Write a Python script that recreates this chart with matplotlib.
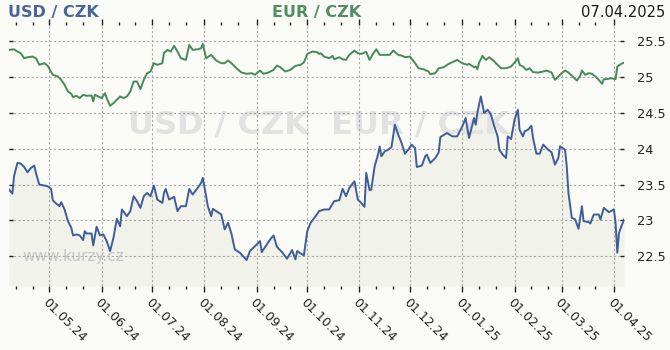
import pandas as pd
import matplotlib
matplotlib.use('Agg')
import matplotlib.pyplot as plt
import matplotlib.dates as mdates

start_date = '2024-04-07'

# days after start_date
usd_days = [0, 2, 3, 5, 7, 9, 11, 13, 15, 16, 18, 21, 23, 25, 26, 28, 30, 31, 33, 35,
            37, 38, 40, 42, 44, 45, 46, 49, 50, 52, 54, 56, 58, 60, 62, 64, 66, 67, 70, 72,
            74, 76, 78, 80, 82, 84, 86, 88, 91, 92,
            93, 95, 98, 100, 102, 105, 107, 109, 112, 114, 115, 117, 118, 120, 121, 123, 126, 128, 130, 132,
            134, 137, 141, 143, 146, 149, 150, 153, 155, 157, 159, 162, 165, 168, 170, 171, 173, 175, 177, 179,
            182, 184,
            187, 190, 193, 196, 198, 200, 202, 205, 207, 209, 211, 212, 214, 215, 217, 219, 220, 221, 223, 225,
            227, 229, 231, 233, 235, 237, 239, 241, 242, 245, 247, 248, 250, 253, 255, 256, 260, 263, 266, 269,
            271, 273, 276,
            277, 278, 280, 282, 284, 286, 288, 290, 291, 293, 295, 296, 298, 300, 302, 303, 305, 306, 308, 310,
            311, 313, 315, 317, 320, 322, 324, 326, 327, 330, 331, 332, 334, 336, 338, 340, 341, 344, 345, 347,
            350, 351, 353, 356, 359, 360, 361, 362, 365]
usd_rate = [23.431, 23.375, 23.616, 23.801, 23.792, 23.745, 23.671, 23.731, 23.764, 23.662,
            23.5, 23.486, 23.477, 23.44, 23.282, 23.236, 23.199, 23.255, 23.153, 22.991,
            22.898, 22.792, 22.806, 22.792, 22.727, 22.852, 22.819, 22.819, 22.653, 22.912,
            22.792, 22.806, 22.713, 22.574, 22.759, 23.023, 22.921, 23.153, 23.06, 23.13,
            23.338, 23.269, 23.176, 23.338, 23.384, 23.338, 23.486, 23.292, 23.245, 23.384,
            23.44, 23.292, 23.329, 23.13, 23.199, 23.199, 23.44, 23.361, 23.454, 23.523,
            23.593, 23.338, 23.199, 23.06, 23.162, 23.13, 23.083, 22.875, 22.968, 22.819,
            22.597, 22.551, 22.449, 22.574, 22.644, 22.713, 22.56, 22.667, 22.736, 22.792,
            22.634, 22.56, 22.468, 22.588, 22.458, 22.574, 22.542, 22.514, 22.852, 22.968,
            23.06, 23.13,
            23.153, 23.153, 23.269, 23.282, 23.44, 23.338, 23.454, 23.546, 23.292, 23.245,
            23.19, 23.662, 23.421, 23.431, 23.755, 23.917, 24.032, 23.894, 23.963, 23.986,
            24.023, 24.333, 24.194, 24.079, 23.931, 23.986, 24.056, 24.009, 23.745, 23.764,
            23.894, 23.917, 23.801, 23.87, 23.949, 24.162, 24.218, 24.171, 24.171, 24.31,
            24.426, 24.148, 24.426,
            24.333, 24.505, 24.727, 24.495, 24.542, 24.472, 24.31, 24.171, 23.986, 23.917,
            23.87, 24.171, 24.134, 24.403, 24.542, 24.264, 24.171, 24.241, 24.264, 24.319,
            24.148, 23.931, 23.931, 24.056, 23.986, 23.949, 23.778, 23.87, 24.032, 23.986,
            23.755, 23.384, 23.037, 23.014, 22.884, 23.199, 22.991, 22.977, 22.958, 23.083,
            23.083, 23.014, 23.176, 23.116, 23.153, 22.958, 22.551, 22.829, 23.014]

eur_days = [0, 3, 5, 7, 9, 11, 14, 16, 18, 21, 23, 26, 29, 31, 33, 35, 37, 38, 40, 42,
            44, 46, 49, 50, 51, 53, 55, 57, 58, 60, 62, 64, 66, 68, 70, 72, 74, 76, 78, 80,
            82, 84, 86, 88, 91, 92,
            93, 94, 96, 98, 100, 102, 105, 107, 109, 112, 114, 115, 117, 120, 123, 126, 128, 130, 132, 135,
            138, 141, 144, 146, 149, 151, 154, 157, 159, 161, 164, 167, 170, 173, 175, 177, 180, 183, 184,
            185, 187, 190, 192, 193, 196, 198, 200, 202, 205, 207, 209, 212, 214, 216, 218, 220, 223, 226, 228,
            231, 233, 235, 238, 241, 243, 246, 249, 250, 253, 255, 258, 261, 264, 266, 269, 272, 273, 276,
            277, 278, 279, 281, 283, 285, 287, 289, 292, 295, 298, 300, 302, 303, 305, 307, 309, 311, 314, 317,
            319, 322, 324, 326, 328, 330, 332, 335, 337, 339, 340, 342, 344, 346, 348, 350, 352, 353, 355, 357,
            360, 361, 363, 365]
eur_rate = [25.375, 25.384, 25.352, 25.329, 25.259, 25.273, 25.282, 25.259, 25.167, 25.19,
            25.153, 25.028, 25.005, 24.958, 24.889, 24.796, 24.764, 24.718, 24.736, 24.704,
            24.75, 24.736, 24.74, 24.657, 24.75, 24.727, 24.704, 24.773, 24.704, 24.597,
            24.634, 24.681, 24.727, 24.704, 24.727, 24.796, 24.935, 24.935, 24.829, 24.958,
            25.051, 25.074, 25.19, 25.167, 25.19, 25.338,
            25.352, 25.375, 25.352, 25.431, 25.352, 25.259, 25.236, 25.444, 25.375, 25.384,
            25.398, 25.458, 25.259, 25.306, 25.227, 25.19, 25.19, 25.227, 25.19, 25.12,
            25.06, 25.042, 25.051, 25.028, 25.088, 25.042, 25.06, 25.097, 25.157, 25.134,
            25.074, 25.097, 25.153, 25.167, 25.199, 25.319, 25.352, 25.343, 25.319,
            25.329, 25.282, 25.259, 25.292, 25.245, 25.273, 25.245, 25.236, 25.306, 25.366,
            25.329, 25.319, 25.347, 25.236, 25.319, 25.384, 25.306, 25.306, 25.306, 25.366,
            25.306, 25.296, 25.273, 25.282, 25.19, 25.12, 25.106, 25.074, 25.037, 25.051,
            25.12, 25.134, 25.181, 25.213, 25.236, 25.19, 25.167, 25.181, 25.134,
            25.144, 25.106, 25.199, 25.292, 25.236, 25.273, 25.236, 25.19, 25.12, 25.12,
            25.144, 25.199, 25.259, 25.167, 25.144, 25.097, 25.12, 25.065, 25.06, 25.074,
            25.088, 25.06, 24.958, 25.005, 25.051, 25.088, 25.06, 24.995, 24.949, 25.014,
            25.088, 25.028, 25.051, 25.042, 25.005, 24.958, 24.903, 24.968, 24.968, 24.981,
            24.968, 25.144, 25.176, 25.199]

y_ticks = [22.5, 23, 23.5, 24, 24.5, 25, 25.5]
y_tick_labels = ['22.5', '23', '23.5', '24', '24.5', '25', '25.5']

bg = '#fafaf6'
usd_color = '#3f5d97'
eur_color = '#468a5c'

start = pd.Timestamp(start_date)
usd_dates = start + pd.to_timedelta(usd_days, unit='D')
eur_dates = start + pd.to_timedelta(eur_days, unit='D')

fig = plt.figure(figsize=(6.7, 3.5), dpi=100, facecolor=bg)
ax = fig.add_axes([0.0134, 0.1829, 0.918, 0.7457])
ax.set_facecolor(bg)
for s in ax.spines.values():
    s.set_visible(False)

y_min, y_max = 22.088, 25.722
ax.set_ylim(y_min, y_max)
ax.set_xlim(usd_dates[0], usd_dates[-1])

# watermark
ax.text(0.503, 0.616, 'USD / CZK  EUR / CZK', transform=ax.transAxes, ha='center', va='center',
        fontsize=23, fontweight='bold', color='#e2e2e2', zorder=1.5)
ax.text(0.022, 0.112, 'www.kurzy.cz', transform=ax.transAxes, ha='left', va='center',
        fontsize=11, color='#c6c6c6', zorder=1.5)

ax.fill_between(usd_dates, usd_rate, y_min, color='#f1f2ea', lw=0, zorder=1)
ax.plot(eur_dates, eur_rate, color=eur_color, lw=1.4, zorder=3)
ax.plot(usd_dates, usd_rate, color=usd_color, lw=1.4, zorder=3)

ax.grid(True, which='major', color='#a8a8a8', linestyle=(0, (2, 2)), lw=0.8, zorder=0)

ax.xaxis.set_major_locator(mdates.MonthLocator())
ax.xaxis.set_minor_locator(mdates.DayLocator(bymonthday=[11, 21]))
ax.xaxis.set_major_formatter(mdates.DateFormatter('%d.%m.%y'))
ax.tick_params(axis='x', which='both', top=True, bottom=True, direction='out', color='#222222')
ax.tick_params(axis='x', which='major', length=4, width=1, labelsize=9, pad=3)
ax.tick_params(axis='x', which='minor', length=2, width=1)
plt.setp(ax.get_xticklabels(), rotation=-45, ha='left', va='top', rotation_mode='anchor', color='#222222')

ax.set_yticks(y_ticks)
ax.set_yticklabels(y_tick_labels)
ax.tick_params(axis='y', left=True, right=True, labelleft=False, labelright=True, direction='in',
               length=3, width=1, color='#222222', labelsize=9.3, pad=9, labelcolor='#222222')

fig.text(0.012, 0.965, 'USD / CZK', ha='left', va='center', fontsize=11.5, fontweight='bold', color='#4a6699')
fig.text(0.473, 0.965, 'EUR / CZK', ha='center', va='center', fontsize=11.5, fontweight='bold', color='#4f8d63')
fig.text(0.993, 0.965, '07.04.2025', ha='right', va='center', fontsize=10.5, color='#1a1a1a')

fig.savefig('out.png', dpi=100, facecolor=bg)
